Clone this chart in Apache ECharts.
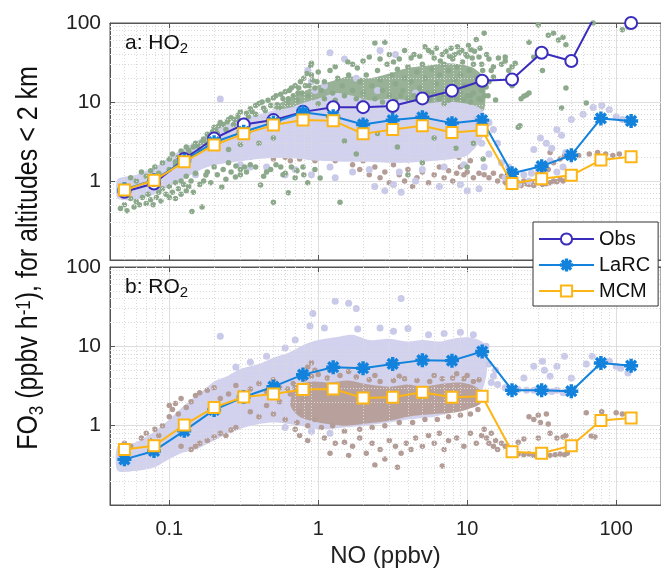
<!DOCTYPE html>
<html><head><meta charset="utf-8">
<script src="https://cdn.jsdelivr.net/npm/echarts@6/dist/echarts.min.js"></script>
<style>html,body{margin:0;padding:0;background:#fff}#c{width:661px;height:574px}</style>
</head><body><div id="c"></div>
<script>
// ---- binned medians (x = NO bin centres, ppbv) ----
const noBins = [0.05, 0.079, 0.126, 0.2, 0.316, 0.5, 0.79, 1.26, 2, 3.16, 5, 7.9, 12.6, 20, 31.6, 50, 79, 126];
const obsHO2  = [0.73, 0.93, 1.9, 3.45, 5.2, 5.9, 7.5, 8.6, 8.6, 8.9, 11.1, 13.9, 18.6, 19.3, 42, 33, 170, 100];
const larcHO2 = [0.78, 1.03, 1.8, 3.1, 4.2, 5.5, 7.4, 6.6, 5.2, 5.9, 6.4, 5.4, 5.9, 1.25, 1.54, 2.12, 6.2, 5.75];
const mcmHO2  = [0.77, 1.02, 1.75, 2.86, 3.95, 5.1, 5.9, 5.8, 3.95, 4.5, 5.0, 4.1, 4.4, 0.93, 1.07, 1.18, 1.84, 2.03];
const larcRO2 = [0.376, 0.48, 0.86, 1.58, 2.3, 3.1, 4.4, 5.45, 5.3, 6.0, 6.7, 6.6, 8.6, 2.8, 2.8, 2.72, 6.17, 5.7];
const mcmRO2  = [0.5, 0.56, 1.02, 1.7, 2.3, 2.5, 2.85, 2.9, 2.24, 2.28, 2.64, 2.28, 2.35, 0.47, 0.45, 0.56, 1.16, 1.25];

// ---- axis tick values ----
const xMinor = [0.05,0.06,0.07,0.08,0.09,0.2,0.3,0.4,0.5,0.6,0.7,0.8,0.9,2,3,4,5,6,7,8,9,20,30,40,50,60,70,80,90];
const yMinor = [0.2,0.3,0.4,0.5,0.6,0.7,0.8,0.9,2,3,4,5,6,7,8,9,20,30,40,50,60,70,80,90];

// ---- dense cores of the point clouds (outline, data units) ----
const obsHO2Core = [[0.5,8.5],[0.7,12],[0.9,15],[1.2,18],[1.6,21],[2.2,20],[3,23],[4,27],[5.5,29],[7,31],[9,30],[11,27],[13,20],
  [13,8],[11,7.5],[9,8],[7,8],[5,7.5],[3.5,8],[2.5,8.5],[1.7,9.5],[1.2,9.5],[0.8,8.5],[0.55,7.5]];
const larcHO2Core = [[0.045,1.05],[0.06,1.2],[0.08,1.5],[0.1,2.0],[0.13,2.7],[0.17,3.6],[0.2,4.5],[0.25,5.2],[0.3,6.2],[0.4,7.0],[0.5,7.8],[0.65,8.5],[0.8,9.8],[1.0,11],[1.3,13],[1.7,12],[2.2,10.5],[3,11],[4,10.5],[5,9.5],[6.5,10],[8,10],[10,9.5],[12,8.5],[13.5,6.5],
  [13.5,4.5],[12,3.0],[10,2.1],[8,1.9],[6,1.8],[4,1.7],[3,1.7],[2,1.75],[1.5,1.75],[1.0,1.8],[0.75,1.9],[0.5,1.95],[0.35,1.85],[0.25,1.7],[0.18,1.5],[0.13,1.1],[0.1,0.85],[0.08,0.68],[0.06,0.58],[0.045,0.6]];
const larcRO2Core = [[0.045,0.55],[0.06,0.62],[0.08,0.85],[0.1,1.2],[0.13,1.9],[0.17,2.8],[0.2,3.6],[0.25,4.3],[0.3,5.2],[0.4,6.0],[0.5,7.2],[0.65,8.5],[0.8,10.5],[1.0,12],[1.3,13],[1.7,14],[2.2,12],[3,12.5],[4,11.5],[5,12],[6.5,11.5],[8,12.5],[10,13],[12,12],[13.5,10],
  [13.5,4.5],[12,2.2],[10,1.7],[8,1.5],[6,1.3],[4,1.2],[3,1.1],[2,1.0],[1.5,0.95],[1.0,0.9],[0.75,1.0],[0.5,1.1],[0.35,1.0],[0.25,0.8],[0.2,0.65],[0.15,0.5],[0.12,0.45],[0.1,0.38],[0.08,0.3],[0.06,0.27],[0.045,0.27]];
const mcmRO2Core = [[0.7,3.0],[0.9,3.6],[1.2,3.5],[1.6,3.7],[2,3.4],[3,3.1],[4,3.3],[5,3.1],[7,3.4],[9,3.5],[11,3.2],[12.3,2.7],
  [12.3,1.9],[10,1.6],[8,1.45],[6,1.4],[4,1.3],[3,1.15],[2,1.05],[1.5,1.0],[1.0,1.1],[0.75,1.3],[0.65,1.8]];

// ---- individual points of the clouds ----
const obsHO2Pts = [[0.047,0.45],[0.05,0.5],[0.052,0.42],[0.055,0.6],[0.058,0.47],[0.06,0.55],[0.063,0.5],[0.066,0.62],[0.07,0.52],[0.072,0.68],[0.075,0.58],[0.078,0.5],[0.082,0.62],[0.085,0.72],[0.088,0.56],[0.09,0.8],[0.095,0.68],
 [0.05,0.9],[0.055,1.1],[0.06,1.0],[0.065,1.3],[0.07,1.15],[0.075,1.35],[0.08,1.5],[0.085,1.25],[0.09,1.7],
 [0.1,0.62],[0.1,0.85],[0.105,0.72],[0.11,0.95],[0.11,0.6],[0.115,0.8],[0.12,0.68],[0.12,1.0],[0.125,0.9],[0.13,0.75],[0.13,1.15],[0.135,0.85],[0.14,1.0],[0.145,0.72],[0.15,1.25],[0.142,0.41],[0.166,0.47],[0.16,0.9],
 [0.1,1.9],[0.105,2.2],[0.11,1.6],[0.12,2.4],[0.13,2.7],[0.14,2.2],[0.15,3.0],[0.16,2.5],[0.17,3.4],[0.18,3.9],[0.19,3.2],
 [0.1,1.4],[0.11,1.75],[0.115,2.0],[0.125,2.2],[0.135,2.45],[0.145,2.7],[0.155,2.8],[0.165,3.1],[0.175,3.0],[0.185,3.5],[0.195,4.2],[0.205,4.4],[0.215,5.0],[0.23,5.2],[0.245,5.6],[0.26,6.3],[0.275,6.0],[0.29,6.0],[0.3,7.5],
 [0.17,1.0],[0.18,1.3],[0.19,0.95],[0.21,1.2],[0.23,1.4],[0.24,1.05],[0.26,1.3],[0.28,1.55],[0.3,1.2],[0.32,1.5],
 [0.2,4.8],[0.21,4.0],[0.22,5.5],[0.24,4.5],[0.25,6.0],[0.27,5.2],[0.29,6.8],[0.31,5.8],[0.33,7.2],
 [0.35,8.2],[0.38,7.0],[0.4,9.6],[0.43,8.4],[0.46,10.5],[0.5,11.2],[0.53,9.2],[0.56,12.5],[0.6,13.5],[0.63,11],[0.66,15],[0.7,16],[0.73,13],[0.76,18],[0.8,20],[0.84,23],[0.89,29],[0.87,16],[0.92,19],
 [0.34,6.5],[0.36,7.5],[0.38,9],[0.42,10],[0.44,7.8],[0.48,9],[0.52,12],[0.55,8.5],[0.58,11],[0.62,9.5],[0.64,14],[0.68,12],[0.72,10.5],[0.74,15],[0.78,13],[0.82,16],[0.86,12],[0.9,22],[0.95,15],[0.98,18],
 [0.176,1.19],[0.225,0.84],[0.278,1.12],[0.41,0.89],[0.5,0.54],[0.56,1.5],[0.7,1.1],[0.63,0.71],[0.2,1.5],[0.25,1.7],[0.3,1.4],[0.35,1.6],[0.45,1.3],[0.6,1.25],[0.25,2.5],[0.3,2.9],[0.4,3.0],[0.5,3.5],
 [0.33,1.3],[0.38,1.5],[0.43,1.15],[0.48,1.4],[0.52,1.6],[0.58,1.2],[0.66,1.5],[0.72,1.35],[0.8,1.2],[0.85,0.95],[0.95,1.4],
 [0.9,31],[1.0,24],[1.05,14],[1.1,18],[1.2,25],[1.25,13],[1.35,20],[1.45,16],[1.58,32],[1.6,22],[1.7,14],[1.83,27],[1.9,18],[2.0,13],[2.2,37],[2.1,22],[2.3,16],[2.4,56],[2.5,25],[2.6,19],[2.8,57],[2.7,14],[2.9,30],[3.1,22],[3.3,17],[3.5,35],[3.4,26],[3.7,14],[3.8,20],[4.0,28],[4.2,18],[4.4,40],[4.6,24],[4.8,15],[5.0,30],[5.2,20],[5.5,45],[5.4,13],[5.8,26],[6.0,36],[6.2,17],[6.5,22],[6.8,40],[7.0,30],[7.2,14],[7.5,25],[7.8,48],[8.0,35],[8.2,19],[8.5,28],[8.8,42],[9.0,22],[9.3,32],[9.6,16],[10,38],[10.3,25],[10.6,46],[11,30],[11.5,20],[12,37],[12.7,25],[13.4,15.5],[12.4,10.6],[11.5,62],[13,74],[10.5,12],[9,11],[7,9.5],
 [1.0,9.5],[1.1,11],[1.3,10.5],[1.5,12],[1.8,11],[2.0,10],[2.4,11],[2.7,10],[3.0,12],[3.3,10.5],[3.6,12],[4.0,11],[4.4,12],[4.8,10.5],[5.2,12],[5.6,11],[6.0,13],[6.5,11],[7.0,12],[7.5,10.5],[8.0,12.5],[8.5,11],[9.0,13],[9.5,10.5],[10,12],[10.5,10],[11,13],[12,11],[12.5,14],[13,12],
 [1.3,28],[1.7,30],[2.0,33],[2.6,35],[3.0,40],[3.2,32],[3.8,45],[4.2,36],[4.8,38],[5.2,50],[5.8,42],[6.2,48],[6.6,33],[7.2,44],[7.6,38],[8.2,40],[8.6,50],[9.2,45],[9.8,40],[10.2,52],[10.8,36],[11.2,44],[12.2,48],[12.5,30],[13.5,40],[14,35],[14.5,25],[14,18],[13.8,12],
 [0.79,1.5],[1.03,1.09],[1.4,0.54],[3.4,2.7],[4.0,1.2],[8.4,2.6],[10,1.5],[1.5,3.2],[2.5,4.0],[6,3.5],[11,3.0],[1.8,2.2],[5,1.7],
 [15.5,10.6],[15,20.7],[16.2,36],[17,30],[18,33],[19,25],[20,16],[21,31],[22,4.8],[23,11],[24,11.8],[25,12.3],[26,13],[26,57],[28,37],[30,94],[32,25],[35,70],[38,74],[41,61],[44,66],[46,53],[46,15],[43,8.4],[63,9.7],[70,100],[110,82],[120,89],[12.8,1.9],[22.6,5],[15,28],[18,37],[20,28]];

const larcHO2Pts = [[0.22,10.9],[0.9,18],[0.85,25],[1.2,42],[1.5,35],[2.6,45],[3.3,40],[1.8,20],[0.95,14],[1.1,16],[2.5,14],[4.5,13],[0.7,1.4],[0.6,1.2],[0.45,1.5],[0.9,1.2],[1.3,1.1],[2.4,0.85],[2.8,0.75],[3.2,0.9],[3.6,0.72],[4.5,1.0],[6.5,0.85],[9,0.9],[10,0.75],[12,0.8],[11.5,6],[13,1.5],[14,2.2],[12.5,3.0],
 [1.2,1.5],[1.7,1.3],[2.2,1.4],[3.5,1.3],[5,1.4],[7,1.5],[9.5,1.6],[0.35,1.5],[0.3,1.6],[0.15,1.2],
 [15,4.5],[14,5.5],[16,3.0],[17,1.7],[19,1.5],[21,1.3],[24,1.2],[27,1.25],[30,1.4],[33,1.6],[36,1.8],[40,1.3],[44,1.5],[28,2.5],[31,3.5],[34,3.0],[37,2.6],[40,4.5],[43,3.8],[46,2.3],[50,6],[60,7],[70,8.5],[80,9],[90,8],[100,6.5],[110,6],[120,5.5],[18,1.1],[22,0.9],[26,1.0]];

const mcmHO2Pts = [[0.117,1.9],[0.125,2.1],[0.45,2.2],[0.5,1.9],[0.55,2.3],[0.6,2.0],[0.65,1.8],[0.7,2.2],[0.75,1.9],[0.8,2.4],[0.85,2.1],[0.9,2.6],[0.95,1.8],[0.35,2.0],[0.4,2.3],
 [1.0,2.4],[1.1,2.0],[1.2,2.6],[1.3,1.8],[1.4,2.2],[1.5,2.5],[1.7,1.6],[1.9,1.4],[2.0,1.8],[2.2,1.2],[2.4,1.5],[2.6,1.1],[2.8,1.3],[3.0,0.95],[3.2,1.6],[3.5,1.2],[3.8,1.0],[4.0,1.4],[4.3,0.85],[4.6,1.1],[5.0,1.3],[5.5,0.95],[6.0,1.2],[6.5,1.5],[7.0,1.1],[7.5,1.35],[8.0,1.0],[8.5,1.25],[9.0,1.5],[9.5,1.2],[10,1.3],[11,1.1],[12,1.25],[2.3,2.3],[3.4,2.0],[5.2,2.2],[6.8,2.4],[8.8,2.0],[10.5,1.8],[1.6,2.8],[4.2,2.5],
 [13,1.2],[14,1.1],[15,1.25],[16,1.0],[17,1.15],[18,0.95],[19,1.05],[20,0.9],[21,1.0],[22,0.95],[23,0.88],[24,1.0],[25,0.92],[26,0.9],[27,0.98],[28,0.88],[30,0.95],[32,0.9],[34,0.92],[36,0.95],[38,1.0],[40,0.98],[42,1.05],[44,1.0],[47,1.1],[32,1.3],[35,1.4],[30,1.2],[38,1.7],[42,1.9],[48,2.0],[56,2.1],[66,2.2],[75,2.3],[85,2.2],[95,2.1],[105,2.2],[36,2.3],[45,2.1]];

const larcRO2Pts = [[0.22,13.4],[0.92,26],[0.88,18],[1.3,37],[1.6,35],[1.8,30],[3.6,40],[1.84,16.5],[2.6,17],[3.2,15.5],[4,16.8],[0.7,12],[1.1,17],[5.5,14],[7,14.5],[9,15],[11,14],[0.6,9.5],[0.45,7.5],[0.35,6.3],[0.28,5.5],[0.9,0.85],[1.2,0.8],[0.6,0.95],
 [13.4,10],[15,4.2],[14,6],[15.5,5],[14.5,3.5],[16,3.3],[18,3.0],[20,2.9],[22,2.85],[25,2.8],[28,2.8],[31,2.9],[34,2.75],[37,2.7],[40,2.8],[44,2.6],[47,2.7],[28,5.6],[32,6.5],[33,5],[40,5.6],[45,7.5],[50,4],[63,6],[69,7.5],[80,6],[90,6.5],[100,5.6],[107,5.3],[120,4.6],[24,4],[36,4.2]];

const mcmRO2Pts = [[0.05,0.6],[0.055,0.55],[0.065,0.7],[0.07,0.8],[0.075,0.65],[0.08,0.9],[0.085,0.75],[0.09,1.0],[0.1,1.3],[0.105,1.6],[0.11,1.9],[0.115,1.4],[0.12,2.2],[0.1,1.8],[0.13,1.7],[0.14,2.0],[0.15,2.4],[0.16,2.6],[0.18,2.8],[0.2,3.0],[0.22,2.2],[0.25,2.5],[0.28,3.2],[0.3,2.6],[0.35,2.9],[0.4,3.4],[0.45,2.7],[0.5,3.8],[0.55,3.0],
 [0.12,0.55],[0.14,0.5],[0.16,0.6],[0.18,0.65],[0.2,0.72],[0.22,0.8],[0.24,0.75],[0.26,0.88],[0.28,0.95],[0.15,0.55],
 [0.35,1.5],[0.4,1.3],[0.45,1.8],[0.5,1.4],[0.55,2.0],[0.6,1.2],[0.65,2.5],[0.7,0.9],[0.75,1.5],[0.8,2.2],[0.85,5.5],[0.9,6.2],[0.95,5.0],[0.75,0.75],[0.85,0.65],[0.7,3.0],
 [0.62,2.9],[0.68,3.4],[0.72,1.1],[0.8,3.8],[0.85,1.0],[0.9,4.2],[0.95,1.2],[1.0,4.4],[1.05,0.95],[1.15,4.0],[1.25,1.0],[1.4,4.3],[1.5,0.85],[1.8,4.1],[1.9,0.9],[2.2,3.8],[2.3,0.95],[2.6,3.6],[2.8,1.0],[3.2,3.7],[3.5,1.1],[3.8,3.9],[4.3,1.1],[4.6,3.7],[5.2,1.2],[5.6,3.6],[6.3,1.2],[6.8,3.9],[7.5,1.3],[8,4.0],[9,1.35],[9.5,3.9],[10.5,1.4],[11,3.6],[11.8,1.6],[12.5,2.2],[12.8,2.6],
 [1.1,0.7],[1.3,0.6],[1.5,0.62],[1.7,0.55],[1.9,0.7],[2.1,0.45],[2.3,0.6],[2.6,0.5],[2.8,0.38],[3.0,0.65],[3.3,0.55],[3.6,0.45],[3.9,0.6],[4.2,0.5],[4.5,0.7],[5,0.55],[5.5,0.75],[6,0.6],[6.5,0.8],[7,0.5],[7.5,0.65],[8.5,0.7],[9.5,0.55],[10.5,0.8],[11.5,0.6],[12.5,0.75],[2.4,0.32],[3.4,0.3],[6.8,0.31],[1.2,0.45],[1.6,0.42],
 [1.2,5.0],[1.6,4.8],[2.4,4.3],[3.5,4.2],[6,4.3],[8.5,4.5],[10,4.3],[12,3.8],
 [13,0.9],[13.5,0.7],[14,0.6],[14.5,0.8],[15,0.55],[15.5,0.65],[16,0.5],[17,0.6],[18,0.55],[19,0.5],[20,0.45],[22,0.44],[24,0.43],[26,0.44],[28,0.42],[30,0.43],[33,0.44],[36,0.42],[39,0.43],[42,0.44],[45,0.43],[47,0.45],[26,1.3],[28,1.2],[30,1.35],[31,1.1],[34,1.4],[35,1.05],[24,0.68],[30,0.7],[40,0.7],[44,0.72],[46,0.75],[63,1.45],[68,0.74],[72,0.72],[80,1.5],[100,1.45],[110,1.4],[22,0.62],[36,0.8]];

// ---- styling ----
const FONT = 'Liberation Sans';
const C_OBS = '#3a2dbd', C_LARC = '#1282dc', C_MCM = '#fcb514';
const C_GREEN = '#8caa8b', C_GREEN_CORE = '#98b197', C_LAV = '#c9c9e9', C_LAV_CORE = '#d2d2ee';
const C_BROWN = '#b49c97', C_BROWN_CORE = '#b8a19c';
const ASTERISK = 'path://M-1.2,-10L1.2,-10L1.2,10L-1.2,10Z M-10,-1.2L10,-1.2L10,1.2L-10,1.2Z M-6.15,-7.85L7.85,6.15L6.15,7.85L-7.85,-6.15Z M7.85,-6.15L-6.15,7.85L-7.85,6.15L6.15,-7.85Z';
const pair = (xs, ys) => xs.map((x, i) => [x, ys[i]]);

const chart = echarts.init(document.getElementById('c'), null, {renderer: 'canvas'});

const grids = [
  {left: 110, top: 23, height: 237, right: -6, show: true, borderColor: '#555', borderWidth: 1},
  {left: 110, top: 267, height: 238, right: -6, show: true, borderColor: '#555', borderWidth: 1}
];
function xAx(gi, pos, labels) {
  return {type: 'log', logBase: 10, gridIndex: gi, position: pos, min: 0.04, max: 200,
    axisLine: {show: true, lineStyle: {color: '#555', width: 1}},
    axisTick: {show: true, inside: true, length: 5, lineStyle: {color: '#555'}},
    axisLabel: {show: labels, fontFamily: FONT, fontSize: 20, color: '#222', margin: 14, showMinLabel: false, showMaxLabel: false},
    splitLine: {show: pos === 'bottom', lineStyle: {color: '#dedede', width: 1}},
    name: (labels ? 'NO (ppbv)' : ''), nameLocation: 'middle', nameGap: 39,
    nameTextStyle: {fontFamily: FONT, fontSize: 24, color: '#222'}};
}
function yAx(gi) {
  return {type: 'log', logBase: 10, gridIndex: gi, min: 0.1, max: 100,
    axisLine: {show: true, lineStyle: {color: '#555', width: 1}},
    axisTick: {show: true, inside: true, length: 5, lineStyle: {color: '#555'}},
    axisLabel: {fontFamily: FONT, fontSize: 21, color: '#222', margin: 9, showMinLabel: false},
    splitLine: {show: true, lineStyle: {color: '#dedede', width: 1}}};
}
function minorGrid(xi, yi) {
  return {type: 'scatter', xAxisIndex: xi, yAxisIndex: yi, data: [], silent: true, z: 0,
    markLine: {silent: true, symbol: 'none', label: {show: false}, animation: false,
      lineStyle: {color: '#dadada', type: [1, 2], width: 1},
      data: xMinor.map(v => ({xAxis: v})).concat(yMinor.map(v => ({yAxis: v})))}};
}
function core(xi, yi, pts, color, z) {
  return {type: 'custom', xAxisIndex: xi, yAxisIndex: yi, data: [0], silent: true, z: z,
    renderItem: (p, api) => ({type: 'polygon', shape: {points: pts.map(q => api.coord(q)), smooth: 0.25},
      style: {fill: color, opacity: 1}})};
}
function cloud(xi, yi, pts, color, size, z) {
  return {type: 'scatter', xAxisIndex: xi, yAxisIndex: yi, data: pts, symbol: 'circle', symbolSize: size,
    itemStyle: {color: color, opacity: 1}, silent: true, z: z};
}
function line(name, xi, yi, ys, color, symbol, size, z) {
  return {name: name, type: 'line', xAxisIndex: xi, yAxisIndex: yi, data: pair(noBins, ys),
    symbol: symbol, symbolSize: size, showAllSymbol: true, clip: true,
    lineStyle: {color: color, width: 2}, itemStyle: {color: color, borderColor: color, borderWidth: 2},
    z: z};
}
const subRich = (fs, sfs, lh) => ({
  m: {fontFamily: FONT, fontSize: fs, lineHeight: lh, verticalAlign: 'top'},
  s: {fontFamily: FONT, fontSize: sfs, lineHeight: sfs, verticalAlign: 'bottom'},
  p: {fontFamily: FONT, fontSize: sfs, lineHeight: sfs, verticalAlign: 'top'}});

const option = {
  animation: false,
  backgroundColor: '#fff',
  grid: grids,
  xAxis: [xAx(0, 'bottom', false), xAx(0, 'top', false), xAx(1, 'bottom', true), xAx(1, 'top', false)],
  yAxis: [yAx(0), yAx(1)],
  legend: {data: ['Obs', 'LaRC', 'MCM'], orient: 'vertical', left: 533, top: 222,
    itemWidth: 55, itemHeight: 14, itemGap: 6, itemTextGap: 7, padding: [7, 8, 5, 5],
    backgroundColor: '#fff', borderColor: '#333', borderWidth: 1, borderRadius: 0,
    textStyle: {fontFamily: FONT, fontSize: 20, color: '#111'}, selectedMode: false, z: 20},
  graphic: [
    {type: 'text', left: 125, top: 33, z: 30, silent: true,
      style: {text: '{m|a: HO}{s|2}', fill: '#111', rich: subRich(21, 15, 23)}},
    {type: 'text', left: 125, top: 277, z: 30, silent: true,
      style: {text: '{m|b: RO}{s|2}', fill: '#111', rich: subRich(21, 15, 23)}},
    {type: 'text', x: 31, y: 258, rotation: Math.PI / 2, scaleY: 1.2, z: 30, silent: true,
      style: {text: '{m|FO}{s|3}{m| (ppbv h}{p|-1}{m|), for altitudes < 2 km}', fill: '#111',
        align: 'center', verticalAlign: 'middle', rich: subRich(25, 17, 28)}}
  ],
  series: [
    minorGrid(0, 0), minorGrid(2, 1),
    // top panel clouds
    cloud(0, 0, mcmHO2Pts, C_BROWN, 5.5, 1),
    core(0, 0, obsHO2Core, C_GREEN_CORE, 1),
    core(0, 0, larcHO2Core, C_LAV_CORE, 2),
    cloud(0, 0, larcHO2Pts, C_LAV, 7, 2),
    cloud(0, 0, obsHO2Pts, C_GREEN, 5.5, 3),
    // bottom panel clouds
    core(2, 1, larcRO2Core, C_LAV_CORE, 1),
    cloud(2, 1, larcRO2Pts, C_LAV, 7, 1),
    core(2, 1, mcmRO2Core, C_BROWN_CORE, 2),
    cloud(2, 1, mcmRO2Pts, C_BROWN, 5.5, 2),
    // binned lines
    line('Obs', 0, 0, obsHO2, C_OBS, 'emptyCircle', 12, 5),
    line('LaRC', 0, 0, larcHO2, C_LARC, ASTERISK, 12, 6),
    line('MCM', 0, 0, mcmHO2, C_MCM, 'emptyRect', 11, 7),
    line('LaRC', 2, 1, larcRO2, C_LARC, ASTERISK, 12, 6),
    line('MCM', 2, 1, mcmRO2, C_MCM, 'emptyRect', 11, 7)
  ]
};
chart.setOption(option);
</script></body></html>
